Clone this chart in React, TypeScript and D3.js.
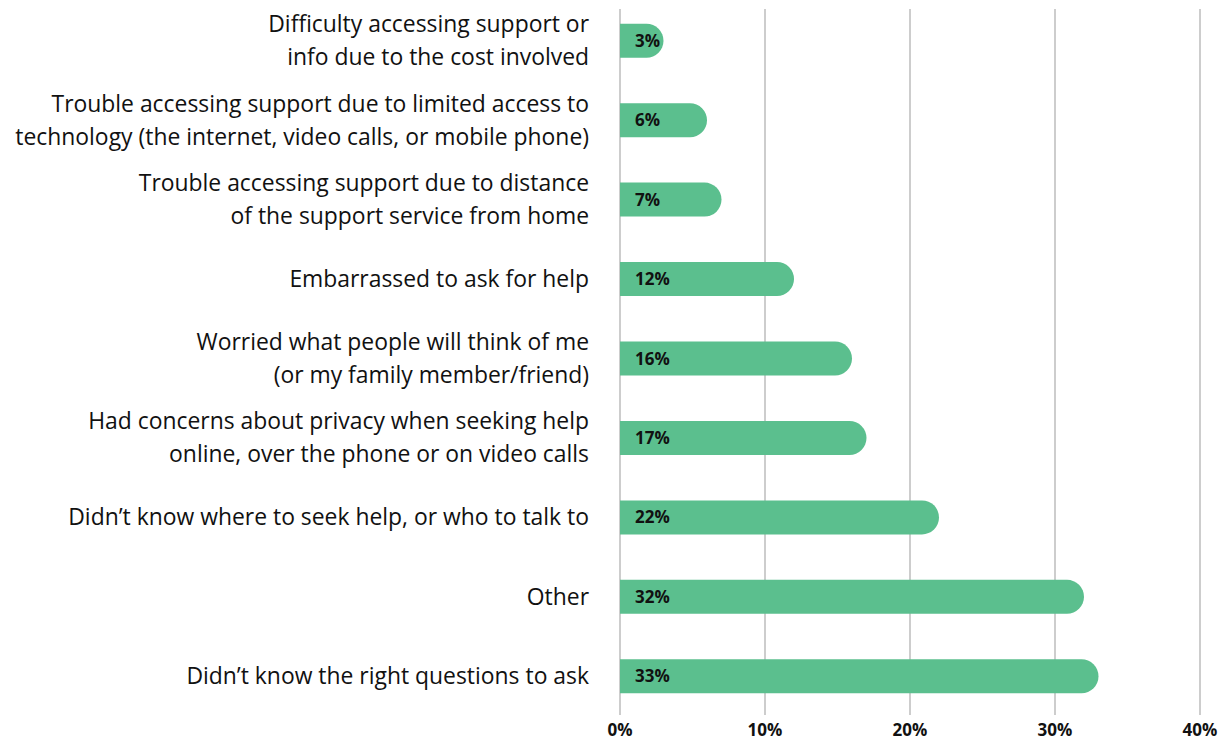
import React from "react";
import * as d3 from "d3";

const categories: string[][] = [
  ["Difficulty accessing support or", "info due to the cost involved"],
  ["Trouble accessing support due to limited access to", "technology (the internet, video calls, or mobile phone)"],
  ["Trouble accessing support due to distance", "of the support service from home"],
  ["Embarrassed to ask for help"],
  ["Worried what people will think of me", "(or my family member/friend)"],
  ["Had concerns about privacy when seeking help", "online, over the phone or on video calls"],
  ["Didn\u2019t know where to seek help, or who to talk to"],
  ["Other"],
  ["Didn\u2019t know the right questions to ask"],
];
const values: number[] = [3, 6, 7, 12, 16, 17, 22, 32, 33];
const ticks: number[] = [0, 10, 20, 30, 40];

const W = 1226;
const H = 742;
const x0 = 620;
const x1 = 1200;
const yTop = 1;
const yBot = 716;
const barH = 34;
const FONT = "'Open Sans', 'Noto Sans', sans-serif";

export default function App() {
  const x = d3.scaleLinear().domain([0, 40]).range([x0, x1]);
  const y = d3
    .scaleBand<number>()
    .domain(d3.range(values.length))
    .range([yTop, yBot])
    .padding(0);
  const r = barH / 2;

  const barPath = (v: number, cy: number) => {
    const w = x(v) - x0;
    const top = cy - r;
    const rr = Math.min(r, w);
    const p = d3.path();
    p.moveTo(x0, top);
    p.lineTo(x0 + w - rr, top);
    p.arc(x0 + w - rr, cy, r, -Math.PI / 2, Math.PI / 2, false);
    p.lineTo(x0, top + barH);
    p.closePath();
    return p.toString();
  };

  return (
    <svg
      width={W}
      height={H}
      style={{ position: "absolute", left: 0, top: 0, background: "#fff" }}
    >
      {ticks.map((t) => (
        <g key={t}>
          <line
            x1={x(t)}
            x2={x(t)}
            y1={9}
            y2={715}
            stroke="#bdbdbd"
            strokeWidth={1.5}
          />
          <text
            x={x(t)}
            y={736}
            textAnchor="middle"
            fontFamily={FONT}
            fontWeight={700}
            fontSize={17}
            fill="#111"
          >
            {t}%
          </text>
        </g>
      ))}
      {values.map((v, i) => {
        const cy = (y(i) as number) + y.bandwidth() / 2;
        const lines = categories[i];
        return (
          <g key={i}>
            <path d={barPath(v, cy)} fill="#5bbf8e" />
            <text
              x={x0 + 15}
              y={cy + 6}
              fontFamily={FONT}
              fontWeight={700}
              fontSize={17}
              fill="#111"
            >
              {v}%
            </text>
            {lines.map((ln, j) => (
              <text
                key={j}
                x={589}
                y={cy + (j - (lines.length - 1) / 2) * 33 + 8}
                textAnchor="end"
                fontFamily={FONT}
                fontSize={22.9}
                fill="#111"
              >
                {ln}
              </text>
            ))}
          </g>
        );
      })}
    </svg>
  );
}
